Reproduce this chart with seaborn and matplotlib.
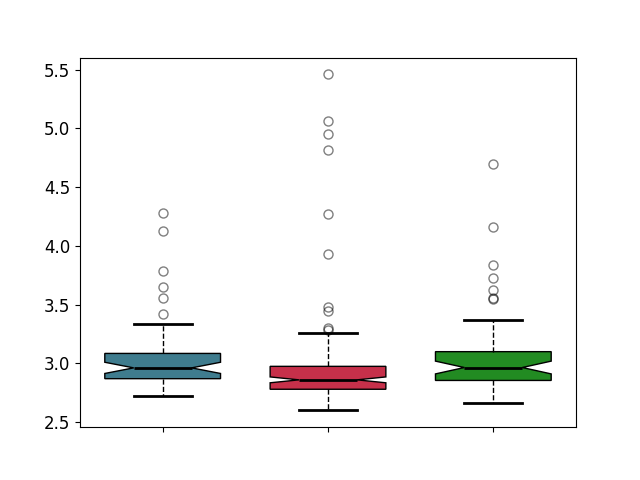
import matplotlib
matplotlib.use("Agg")
import matplotlib.pyplot as plt
import seaborn as sns
import pandas as pd

groups = ["A", "B", "C"]
colors = ["#3F7C8E", "#C6304A", "#228B22"]

values_a = [
    2.72,
    2.74, 2.76, 2.78, 2.79, 2.80, 2.81, 2.82, 2.83, 2.84, 2.85, 2.86,
    2.87, 2.87,
    2.88, 2.89, 2.90, 2.91, 2.92, 2.93, 2.94, 2.95, 2.955, 2.96,
    2.962, 2.962,
    2.97, 2.98, 2.99, 3.00, 3.01, 3.02, 3.03, 3.05, 3.06, 3.07,
    3.085, 3.085,
    3.10, 3.13, 3.17, 3.21, 3.27, 3.335,
    3.42, 3.557, 3.648, 3.785, 4.13, 4.284,
]

values_b = [
    2.60,
    2.61, 2.62, 2.63, 2.64, 2.645, 2.65, 2.655, 2.66, 2.665, 2.67, 2.675, 2.68,
    2.685, 2.69, 2.695, 2.70, 2.705, 2.71, 2.715, 2.72, 2.725, 2.73, 2.735, 2.74,
    2.744, 2.748, 2.752, 2.756, 2.76, 2.763, 2.766, 2.769, 2.772, 2.774, 2.776, 2.778,
    2.78, 2.78,
    2.782, 2.784, 2.786, 2.788, 2.79, 2.792, 2.794, 2.796, 2.798, 2.80, 2.802, 2.804,
    2.806, 2.808, 2.81, 2.812, 2.814, 2.816, 2.818, 2.82, 2.823, 2.826, 2.829, 2.832,
    2.835, 2.838, 2.84, 2.842, 2.844, 2.846, 2.848, 2.85, 2.853, 2.856, 2.858,
    2.86, 2.86,
    2.863, 2.866, 2.869, 2.872, 2.875, 2.878, 2.881, 2.884, 2.887, 2.89, 2.893, 2.896,
    2.90, 2.903, 2.906, 2.91, 2.913, 2.916, 2.92, 2.923, 2.926, 2.93, 2.933, 2.936,
    2.94, 2.943, 2.946, 2.95, 2.953, 2.956, 2.96, 2.963, 2.966, 2.969, 2.972,
    2.975, 2.975,
    2.978, 2.982, 2.986, 2.99, 2.995, 3.00, 3.005, 3.01, 3.016, 3.022, 3.028, 3.035,
    3.042, 3.05, 3.058, 3.067, 3.076, 3.086, 3.097, 3.109, 3.122, 3.136, 3.152, 3.17,
    3.19, 3.22, 3.26,
    3.285, 3.30, 3.447, 3.48, 3.933, 4.275, 4.816, 4.953, 5.064, 5.46,
]

values_c = [
    2.66,
    2.69, 2.72, 2.74, 2.76, 2.78, 2.80, 2.81, 2.82, 2.83, 2.84, 2.85,
    2.855, 2.855,
    2.87, 2.88, 2.89, 2.90, 2.91, 2.92, 2.93, 2.94, 2.95, 2.96,
    2.965, 2.965,
    2.975, 2.99, 3.00, 3.01, 3.02, 3.04, 3.05, 3.06, 3.08, 3.09,
    3.10, 3.10,
    3.13, 3.17, 3.22, 3.29, 3.369,
    3.545, 3.56, 3.625, 3.73, 3.84, 4.165, 4.70,
]

df = pd.concat([
    pd.DataFrame({"group": g, "value": v})
    for g, v in zip(groups, [values_a, values_b, values_c])
], ignore_index=True)

fig, ax = plt.subplots(figsize=(6.4, 4.8), dpi=100)
sns.boxplot(
    data=df, x="group", y="value", hue="group", palette=colors,
    saturation=1, legend=False, notch=True, width=0.7,
    linecolor="black", linewidth=1, ax=ax,
    boxprops=dict(edgecolor="black", linewidth=1),
    medianprops=dict(color="black", linewidth=2),
    whiskerprops=dict(color="black", linewidth=1, linestyle="--"),
    capprops=dict(color="black", linewidth=2),
    flierprops=dict(marker="o", markerfacecolor="none",
                    markeredgecolor="black", alpha=0.5, markersize=6.5),
)
ax.set_xticks(range(len(groups)))
ax.set_xticklabels([])
ax.set_xlabel("")
ax.set_ylabel("")
ax.tick_params(axis="y", labelsize=12)
fig.savefig("out.png", dpi=100)
